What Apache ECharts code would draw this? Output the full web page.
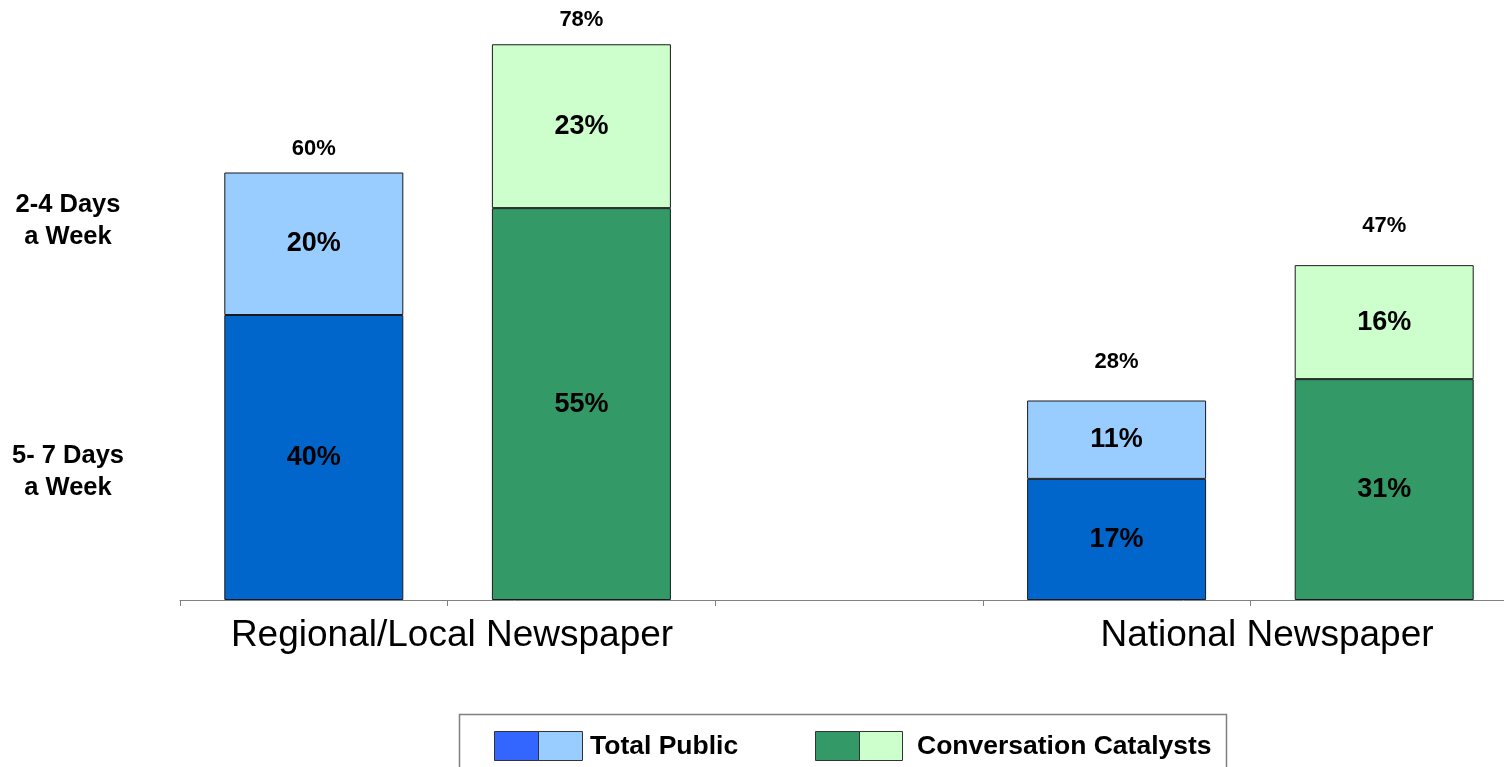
<!DOCTYPE html>
<html>
<head>
<meta charset="utf-8">
<script src="https://cdn.jsdelivr.net/npm/echarts@6/dist/echarts.min.js"></script>
<style>
html,body{margin:0;padding:0;background:#fff;overflow:hidden;width:1504px;height:767px;}
#c{width:1518px;height:767px;}
</style>
</head>
<body>
<div id="c"></div>
<script>
// Categories: one bar per slot (slot 3 is an empty spacer between groups)
var categories = ['TP Regional', 'CC Regional', 'gap', 'TP National', 'CC National'];
var groupLabels = ['Regional/Local Newspaper', 'National Newspaper'];
var rowLabels = ['2-4 Days\na Week', '5- 7 Days\na Week'];
var legendNames = ['Total Public', 'Conversation Catalysts'];

// Values (%)
var totalPublic57 = [40, '-', '-', 17, '-'];
var totalPublic24 = [20, '-', '-', 11, '-'];
var catalysts57   = ['-', 55, '-', '-', 31];
var catalysts24   = ['-', 23, '-', '-', 16];
var totals        = [60, 78, '-', 28, 47];

var FONT = "'Liberation Sans', Arial, sans-serif";
var chart = echarts.init(document.getElementById('c'));

function barSeries(name, data, color) {
  return {
    name: name, type: 'bar', stack: 'all', data: data, barWidth: 179,
    itemStyle: { color: color, borderColor: '#1a1a1a', borderWidth: 1 },
    label: { show: true, position: 'inside', formatter: '{c}%', fontFamily: FONT,
             fontSize: 27, fontWeight: 'bold', color: '#000' },
    emphasis: { disabled: true }, animation: false
  };
}

var totalData = totals.map(function (v, i) {
  return { value: v, label: { distance: i < 2 ? 13 : 28 } };
});

var option = {
  backgroundColor: '#fff',
  animation: false,
  grid: { left: 180, top: 30, right: 0, bottom: 167 },
  xAxis: {
    type: 'category', data: categories, boundaryGap: true,
    axisLine: { lineStyle: { color: '#808080', width: 1 } },
    axisTick: { show: true, length: 6, lineStyle: { color: '#808080' } },
    axisLabel: { show: false }, splitLine: { show: false }
  },
  yAxis: { type: 'value', min: 0, max: 80, show: false, splitLine: { show: false } },
  series: [
    barSeries('Total Public 5-7', totalPublic57, '#0066CC'),
    barSeries('Total Public 2-4', totalPublic24, '#99CCFF'),
    barSeries('Catalysts 5-7', catalysts57, '#339966'),
    barSeries('Catalysts 2-4', catalysts24, '#CCFFCC'),
    {
      name: 'Total', type: 'scatter', data: totalData, symbolSize: 0,
      itemStyle: { color: '#000' },
      label: { show: true, position: 'top', formatter: '{c}%', fontFamily: FONT,
               fontSize: 22, fontWeight: 'bold', color: '#000', opacity: 1 },
      emphasis: { disabled: true }, z: 5
    }
  ],
  graphic: [
    { type: 'text', style: { text: groupLabels[0], font: '37px ' + FONT, fill: '#000', textAlign: 'center', textVerticalAlign: 'middle', x: 452, y: 636 } },
    { type: 'text', style: { text: groupLabels[1], font: '37px ' + FONT, fill: '#000', textAlign: 'center', textVerticalAlign: 'middle', x: 1267, y: 636 } },
    { type: 'text', style: { text: rowLabels[0], font: 'bold 25.5px ' + FONT, fill: '#000', textAlign: 'center', textVerticalAlign: 'middle', lineHeight: 32, x: 68, y: 221 } },
    { type: 'text', style: { text: rowLabels[1], font: 'bold 25.5px ' + FONT, fill: '#000', textAlign: 'center', textVerticalAlign: 'middle', lineHeight: 32, x: 68, y: 472 } },
    // legend box
    { type: 'rect', shape: { x: 459.5, y: 714.5, width: 767, height: 100 }, style: { fill: '#fff', stroke: '#808080', lineWidth: 1.5 } },
    { type: 'rect', shape: { x: 494.5, y: 731.5, width: 44, height: 29 }, style: { fill: '#3366FF', stroke: '#333', lineWidth: 1 } },
    { type: 'rect', shape: { x: 538.5, y: 731.5, width: 44, height: 29 }, style: { fill: '#99CCFF', stroke: '#333', lineWidth: 1 } },
    { type: 'text', style: { text: legendNames[0], font: 'bold 26.5px ' + FONT, fill: '#000', textAlign: 'left', textVerticalAlign: 'middle', x: 590, y: 747 } },
    { type: 'rect', shape: { x: 815.5, y: 731.5, width: 44, height: 29 }, style: { fill: '#339966', stroke: '#333', lineWidth: 1 } },
    { type: 'rect', shape: { x: 859.5, y: 731.5, width: 43, height: 29 }, style: { fill: '#CCFFCC', stroke: '#333', lineWidth: 1 } },
    { type: 'text', style: { text: legendNames[1], font: 'bold 26.5px ' + FONT, fill: '#000', textAlign: 'left', textVerticalAlign: 'middle', x: 917, y: 747 } }
  ]
};
chart.setOption(option);
</script>
</body>
</html>
